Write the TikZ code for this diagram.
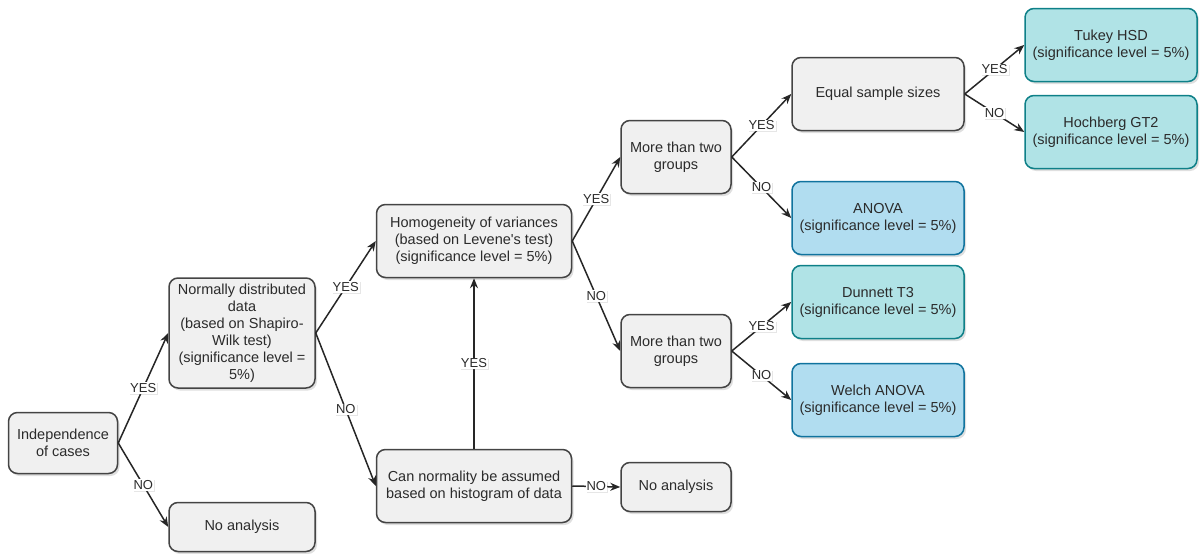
\documentclass[tikz,border=0pt]{standalone}
\usepackage{fontspec}
\setmainfont{Liberation Sans}[Ligatures=TeXOff]
\usetikzlibrary{arrows.meta,shadows}
\definecolor{boxfill}{HTML}{F0F0F0}
\definecolor{boxline}{HTML}{444444}
\definecolor{tealfill}{HTML}{B0E3E6}
\definecolor{tealline}{HTML}{0E8088}
\definecolor{bluefill}{HTML}{B1DDF0}
\definecolor{blueline}{HTML}{10739E}
\definecolor{txt}{HTML}{2B2B2B}

\begin{document}
\begin{tikzpicture}[x=1pt, y=-1pt,
        box/.style={draw=boxline, fill=boxfill, rounded corners=9pt, line width=1.5pt,
            inner sep=0pt, align=center, text=txt, font=\fontsize{14.5}{17}\selectfont,
            drop shadow={shadow xshift=2pt, shadow yshift=-2.5pt, opacity=0.25}},
        arr/.style={-{Stealth[length=10pt,width=8pt]}, line width=1.5pt, draw=black!85},
        lbl/.style={fill=white, inner sep=1pt, text=txt, font=\fontsize{13}{13}\selectfont,
            drop shadow={shadow xshift=1pt, shadow yshift=-1pt, opacity=0.2}}]

        \useasboundingbox (0,0) rectangle (1200,554);

        % left part
        \node[box, name=indep, minimum width=109, minimum height=61] at (63,443) {Independence\\of cases};
        \node[box, name=noan1, minimum width=146, minimum height=49] at (242,527) {No analysis};
        \node[box, name=normal, minimum width=146, minimum height=110] at (242,333)
            {Normally distributed\\data\\(based on Shapiro-\\Wilk test)\\(significance level =\\5\%)};
        \node[box, name=homog, minimum width=195, minimum height=73] at (474,241)
            {Homogeneity of variances\\(based on Levene's test)\\(significance level = 5\%)};
        \node[box, name=histo, minimum width=195, minimum height=73] at (474,486)
            {Can normality be assumed\\based on histogram of data};
        \node[box, name=noan2, minimum width=110, minimum height=49] at (676,487) {No analysis};
        \node[box, name=groupsA, minimum width=110, minimum height=73] at (676,157) {More than two\\groups};
        \node[box, name=groupsB, minimum width=110, minimum height=73] at (676,351) {More than two\\groups};
        \node[box, name=equal, minimum width=172, minimum height=73] at (878,94) {Equal sample sizes};

        % tests
        \foreach \nm/\x/\y/\fc/\dc/\tst in {tukey/1111/45/tealfill/tealline/Tukey HSD,
                hochberg/1111/132/tealfill/tealline/Hochberg GT2,
                anova/878/218/bluefill/blueline/ANOVA,
                dunnett/878/302/tealfill/tealline/Dunnett T3,
                welch/878/400/bluefill/blueline/Welch ANOVA}
            {
                \node[box, name=\nm, fill=\fc, draw=\dc, minimum width=172, minimum height=73] at (\x,\y)
                    {\tst\\(significance level = 5\%)};
            }

        % connectors
        \foreach \a/\b/\t in {indep/normal/YES, indep/noan1/NO, normal/homog/YES, normal/histo/NO,
                histo/noan2/NO, homog/groupsA/YES, homog/groupsB/NO, groupsA/equal/YES,
                groupsA/anova/NO, groupsB/dunnett/YES, groupsB/welch/NO, equal/tukey/YES,
                equal/hochberg/NO}
            {
                \draw[arr] (\a.east) -- node[lbl] {\t} (\b.west);
            }
        \draw[arr] (histo.north) -- node[lbl] {YES} (homog.south);
    \end{tikzpicture}
\end{document}
